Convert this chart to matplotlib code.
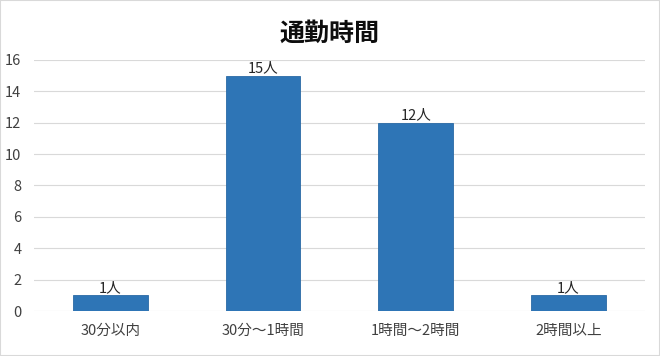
import matplotlib.pyplot as plt
from matplotlib.patches import Rectangle

plt.rcParams['font.family'] = ['Noto Sans CJK JP', 'DejaVu Sans']

categories = ["30分以内", "30分～1時間", "1時間～2時間", "2時間以上"]
values = [1, 15, 12, 1]
labels = ["1人", "15人", "12人", "1人"]
yticks = [0, 2, 4, 6, 8, 10, 12, 14, 16]

fig = plt.figure(figsize=(6.6, 3.56), dpi=100)
ax = fig.add_axes([0.0515, 0.1264, 0.9255, 0.7051])

x = range(len(categories))
bars = ax.bar(x, values, width=0.49, color="#2E75B6", edgecolor="#2A6AA5", linewidth=0.6, zorder=3)
for b, lab in zip(bars, labels):
    ax.text(b.get_x() + b.get_width() / 2, b.get_height() + 0.02, lab,
            ha="center", va="bottom", fontsize=10.5, color="#262626")

ax.set_xlim(-0.5, len(categories) - 0.5)
ax.set_ylim(0, 16)
ax.set_yticks(yticks)
ax.set_xticks(list(x))
ax.set_xticklabels(categories)
ax.grid(axis="y", color="#D9D9D9", linewidth=0.8, zorder=0)
for s in ax.spines.values():
    s.set_visible(False)
ax.tick_params(length=0, labelsize=10.5, colors="#404040")
ax.tick_params(axis="x", pad=9)
ax.tick_params(axis="y", pad=9)

fig.suptitle("通勤時間", y=0.94, fontsize=18, fontweight="bold", color="#0D0D0D")
fig.patches.append(Rectangle((0, 0), 1, 1, transform=fig.transFigure, fill=False,
                             edgecolor="#D9D9D9", linewidth=1.5))
fig.savefig("out.png", dpi=100)
